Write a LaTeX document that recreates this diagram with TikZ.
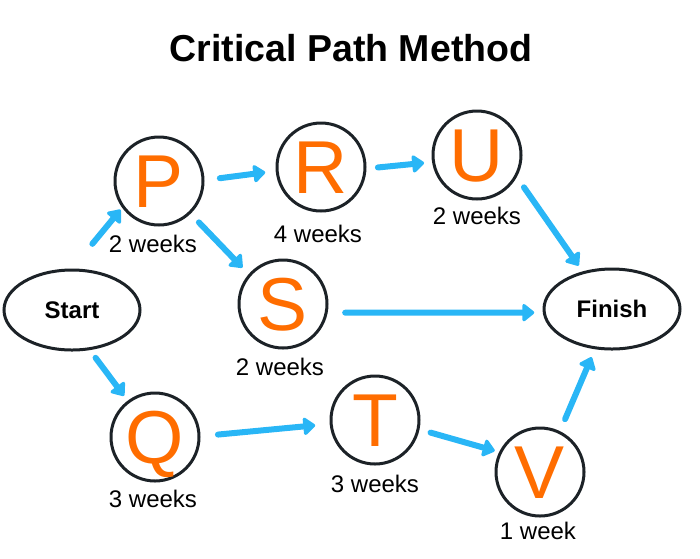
\documentclass[tikz,border=0pt]{standalone}
\usepackage{fontspec}
\setmainfont{Liberation Sans}
\usetikzlibrary{arrows.meta, shapes.geometric}
\definecolor{cpmblue}{HTML}{29B6F6}
\definecolor{cpmorange}{HTML}{FF6D00}
\definecolor{cpmline}{HTML}{1C2227}
\tikzset{
    task/.style={circle, draw=cpmline, line width=3pt, minimum size=88pt, inner sep=0pt,
        text=cpmorange, font=\fontsize{75}{75}\selectfont, text height=53.5pt, text depth=0pt},
    terminal/.style={ellipse, draw=cpmline, line width=3pt, minimum width=136pt, minimum height=80pt,
        inner sep=0pt, font=\bfseries\fontsize{24}{26}\selectfont},
    weeks/.style={inner sep=0pt, font=\fontsize{24}{26}\selectfont},
    link/.style={cpmblue, line width=6pt, line cap=round, -{Triangle[length=13pt,width=20pt,round]}},
}

\begin{document}
\begin{tikzpicture}[x=1pt, y=-1pt]
    \useasboundingbox (0,0) rectangle (700,558);

    \node[inner sep=0pt, font=\bfseries\fontsize{37.5}{40}\selectfont] (title) at (351,48) {Critical Path Method};

    \node[terminal] (Start)  at (72,310)  {Start};
    \node[terminal] (Finish) at (612,309) {Finish};

    \node[task] (P) at (159,181) {P};
    \node[task] (R) at (321,167) {R};
    \node[task] (U) at (477,155) {U};
    \node[task] (S) at (283,304) {S};
    \node[task] (Q) at (155,437) {Q};
    \node[task] (T) at (375,420) {T};
    \node[task] (V) at (540,472) {V};

    \node[weeks] (Pweeks) at (153,244) {2 weeks};
    \node[weeks] (Rweeks) at (318,234) {4 weeks};
    \node[weeks] (Uweeks) at (477,216) {2 weeks};
    \node[weeks] (Sweeks) at (280,367) {2 weeks};
    \node[weeks] (Qweeks) at (153,499) {3 weeks};
    \node[weeks] (Tweeks) at (375,484) {3 weeks};
    \node[weeks] (Vweeks) at (538,531) {1 week};

    % dependencies
    \draw[link, shorten <=32pt, shorten >=2.5pt] (Start.north) -- (P.216);
    \draw[link, shorten <=9.6pt, shorten >=6pt]  (Start.294) -- (Q.127);
    \draw[link, shorten <=15.5pt, shorten >=10.5pt] (P.1) -- (R.185);
    \draw[link, shorten <=12pt, shorten >=9pt]   (P.314) -- (S.139);
    \draw[link, shorten <=11.5pt, shorten >=8pt] (R.358) -- (U.189);
    \draw[link, shorten <=12.5pt, shorten >=7pt] (U.331) -- (Finish.128);
    \draw[link, shorten <=17.5pt, shorten >=8.5pt] (S.349) -- (Finish.183);
    \draw[link, shorten <=17.5pt, shorten >=14.5pt] (Q.1) -- (T.185);
    \draw[link, shorten <=11.5pt, shorten >=4.5pt] (T.348) -- (V.154);
    \draw[link, shorten <=13pt, shorten >=8.6pt] (V.64) -- (Finish.247);
\end{tikzpicture}
\end{document}
